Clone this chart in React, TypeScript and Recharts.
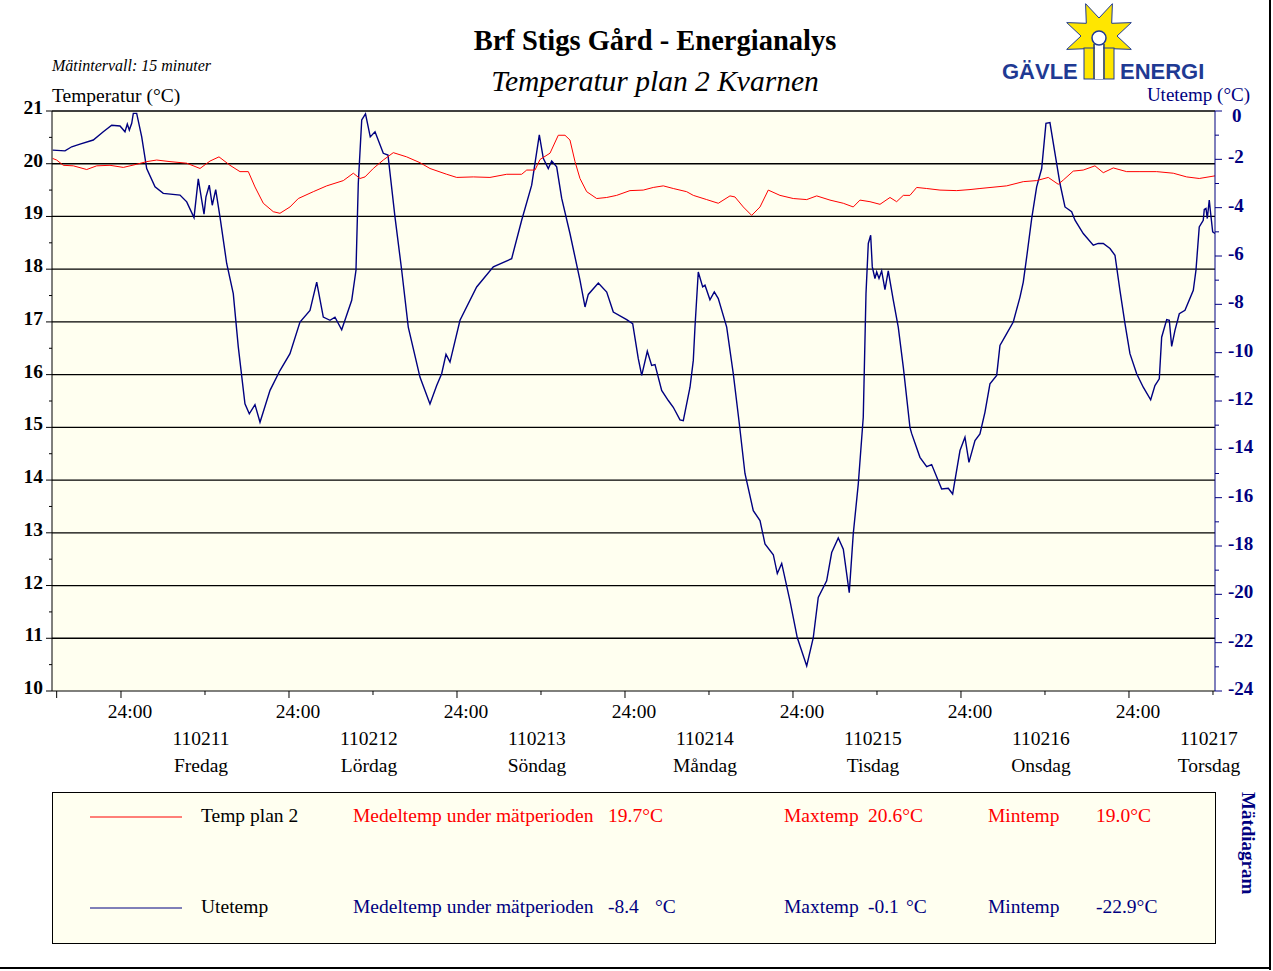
import { CartesianGrid, Line, LineChart, ReferenceLine, XAxis, YAxis } from 'recharts';

// Utetemp (right axis), hours from midnight 110211
const blueHours = [
    -9.76, -8.0, -7.04, -5.86, -3.96, -2.53, -1.33, -0.14, 0.57, 0.9,
    1.19, 1.53, 1.76, 2.24, 2.96, 3.67, 4.86, 6.04, 8.43, 9.39,
    10.43, 11.04, 11.53, 11.86, 12.14, 12.61, 13.04, 13.53, 14.14, 15.1,
    16.04, 16.76, 17.71, 18.33, 19.14, 19.86, 21.29, 22.71, 24.14, 25.57,
    27.0, 27.96, 28.9, 29.86, 30.57, 31.53, 32.96, 33.57, 33.9, 34.39,
    34.93, 35.61, 36.29, 37.47, 38.14, 39.14, 40.1, 41.04, 42.71, 44.14,
    45.1, 45.81, 46.43, 47.0, 48.43, 50.81, 53.19, 55.81, 57.24, 58.67,
    59.76, 60.33, 61.04, 61.53, 62.24, 62.96, 64.14, 65.57, 66.29, 66.76,
    68.19, 69.39, 70.33, 72.24, 73.1, 73.9, 74.39, 75.19, 75.81, 76.29,
    77.24, 78.19, 78.9, 79.86, 80.33, 81.29, 81.76, 82.0, 82.47, 83.1,
    83.43, 84.14, 84.76, 85.33, 86.53, 87.47, 88.33, 89.14, 90.33, 91.29,
    92.0, 93.19, 93.76, 94.39, 95.57, 96.61, 97.96, 98.9, 99.61, 100.81,
    101.53, 102.47, 103.19, 104.04, 104.61, 105.33, 106.04, 106.43, 106.76, 107.1,
    107.33, 107.71, 107.96, 108.29, 108.67, 109.14, 109.61, 110.33, 111.04, 111.76,
    112.71, 112.96, 114.14, 115.1, 115.81, 117.24, 118.19, 118.81, 119.86, 120.57,
    121.14, 122.0, 122.71, 123.43, 124.14, 125.1, 125.57, 126.53, 127.47, 128.43,
    128.9, 129.39, 130.1, 130.81, 131.53, 132.14, 132.71, 133.43, 134.14, 134.86,
    135.81, 136.29, 137.47, 138.9, 139.61, 140.33, 141.29, 142.0, 142.71, 143.43,
    144.14, 145.1, 146.04, 147.1, 147.71, 148.33, 148.67, 149.39, 149.76, 150.1,
    150.57, 151.19, 152.0, 153.19, 153.57, 154.04, 154.61, 154.76, 155.0, 155.19,
    155.47, 155.67, 155.96, 156.29,
];
const blueTemps = [
    -1.62, -1.65, -1.48, -1.37, -1.2, -0.86, -0.59, -0.62, -0.86, -0.54,
    -0.79, -0.51, -0.1, -0.1, -1.07, -2.38, -3.14, -3.41, -3.48, -3.76,
    -4.41, -2.81, -3.69, -4.27, -3.55, -3.07, -3.9, -3.25, -4.38, -6.31,
    -7.56, -9.77, -12.12, -12.53, -12.15, -12.88, -11.56, -10.74, -10.04, -8.73,
    -8.25, -7.08, -8.53, -8.66, -8.53, -9.05, -7.83, -6.59, -3.0, -0.37,
    -0.12, -1.07, -0.86, -1.75, -1.82, -4.38, -6.59, -8.94, -11.01, -12.12,
    -11.36, -10.87, -10.07, -10.39, -8.66, -7.28, -6.45, -6.11, -4.52, -3.07,
    -0.99, -1.96, -2.38, -2.07, -2.31, -3.62, -5.07, -7.0, -8.11, -7.59,
    -7.12, -7.49, -8.32, -8.63, -8.8, -10.25, -10.94, -9.94, -10.53, -10.49,
    -11.56, -11.98, -12.26, -12.78, -12.81, -11.43, -10.32, -8.94, -6.66, -7.28,
    -7.21, -7.81, -7.49, -7.76, -8.94, -10.87, -12.93, -15.0, -16.54, -16.95,
    -17.91, -18.36, -19.14, -18.72, -20.27, -21.79, -22.96, -21.79, -20.13, -19.44,
    -18.27, -17.67, -18.13, -19.93, -17.5, -15.43, -12.67, -7.56, -5.48, -5.14,
    -6.45, -6.93, -6.66, -6.93, -6.62, -7.39, -6.62, -7.83, -8.94, -10.6,
    -13.09, -13.35, -14.33, -14.72, -14.63, -15.64, -15.61, -15.85, -14.05, -13.5,
    -14.54, -13.64, -13.36, -12.46, -11.29, -10.94, -9.7, -9.21, -8.73, -7.7,
    -7.08, -6.04, -4.45, -3.14, -2.38, -0.51, -0.48, -1.75, -3.0, -3.97,
    -4.17, -4.52, -5.07, -5.55, -5.48, -5.48, -5.69, -5.97, -7.42, -8.8,
    -10.04, -10.87, -11.43, -11.95, -11.36, -11.08, -9.36, -8.63, -8.66, -9.74,
    -9.08, -8.39, -8.25, -7.42, -6.59, -4.8, -4.52, -4.07, -4.03, -4.45,
    -3.69, -4.24, -5.0, -5.07,
];

// Temp plan 2 (left axis)
const redHours = [
    -9.76, -9.19, -8.24, -6.81, -4.9, -3.47, -1.57, 0.33, 2.24, 3.67,
    5.1, 7.0, 9.39, 11.29, 12.71, 14.0, 15.57, 17.0, 18.19, 19.14,
    20.33, 21.76, 22.71, 24.14, 25.33, 27.47, 29.39, 31.76, 33.19, 34.14,
    34.86, 36.04, 37.47, 38.9, 40.81, 42.71, 44.14, 46.53, 47.96, 50.33,
    52.71, 55.1, 57.24, 57.96, 59.14, 59.86, 61.29, 62.47, 63.43, 64.14,
    64.86, 65.57, 66.53, 67.96, 69.39, 70.81, 72.71, 74.61, 76.04, 77.47,
    78.9, 80.81, 81.76, 83.67, 85.33, 87.0, 87.71, 88.9, 90.1, 91.29,
    92.47, 94.14, 96.04, 97.96, 99.39, 101.29, 103.19, 104.61, 105.57, 107.0,
    108.43, 109.86, 110.81, 111.76, 112.71, 113.67, 115.1, 117.0, 119.39, 121.29,
    122.71, 126.53, 128.9, 130.81, 132.47, 133.9, 134.61, 136.04, 137.47, 139.14,
    140.33, 141.76, 143.67, 145.57, 147.96, 150.33, 152.24, 154.04, 156.29,
];
const redTemps = [
    20.1, 20.07, 19.97, 19.96, 19.89, 19.96, 19.97, 19.93, 19.99, 20.04,
    20.07, 20.04, 20.01, 19.91, 20.05, 20.13, 19.97, 19.85, 19.85, 19.56,
    19.25, 19.09, 19.06, 19.18, 19.34, 19.47, 19.58, 19.68, 19.82, 19.72,
    19.75, 19.91, 20.07, 20.21, 20.13, 20.02, 19.91, 19.8, 19.74, 19.75,
    19.74, 19.8, 19.8, 19.88, 19.88, 20.08, 20.2, 20.54, 20.54, 20.45,
    20.04, 19.72, 19.47, 19.34, 19.36, 19.4, 19.49, 19.5, 19.55, 19.58,
    19.53, 19.47, 19.4, 19.32, 19.25, 19.39, 19.37, 19.18, 19.02, 19.18,
    19.5, 19.4, 19.34, 19.32, 19.39, 19.31, 19.25, 19.18, 19.31, 19.28,
    19.23, 19.36, 19.28, 19.4, 19.4, 19.55, 19.53, 19.5, 19.49, 19.51,
    19.53, 19.58, 19.66, 19.68, 19.74, 19.61, 19.69, 19.86, 19.88, 19.96,
    19.83, 19.92, 19.85, 19.85, 19.85, 19.82, 19.75, 19.72, 19.77,
];

const dayCodes = ['110211', '110212', '110213', '110214', '110215', '110216', '110217'];
const dayNames = ['Fredag', 'Lördag', 'Söndag', 'Måndag', 'Tisdag', 'Onsdag', 'Torsdag'];
const hourTicks = [-9.19, 0, 12, 24, 36, 48, 60, 72, 84, 96, 108, 120, 132, 144, 156];
const leftTicks = [10, 10.5, 11, 11.5, 12, 12.5, 13, 13.5, 14, 14.5, 15, 15.5, 16, 16.5, 17, 17.5, 18, 18.5, 19, 19.5, 20, 20.5, 21];
const gridValues = [11, 12, 13, 14, 15, 16, 17, 18, 19, 20, 21];
const rightTicks = [-24, -23, -22, -21, -20, -19, -18, -17, -16, -15, -14, -13, -12, -11, -10, -9, -8, -7, -6, -5, -4, -3, -2, -1, 0];

const SERIF = "'Liberation Serif', 'Times New Roman', serif";
const SANS = "'Liberation Sans', Arial, sans-serif";
const NAVY = '#000080';
const PAPER = '#FFFFF0';
const LOGO_BLUE = '#1f3a93';

const blueRows = blueHours.map((h, i) => ({ h, v: blueTemps[i] }));
const redRows = redHours.map((h, i) => ({ h, v: redTemps[i] }));

function LeftTick({ x, y, payload }: any) {
    const v = payload.value as number;
    const major = Number.isInteger(v);
    return (
        <g>
            <line x1={x - (major ? 6 : 3)} x2={x} y1={y} y2={y} stroke="#000" />
            {major ? (
                <text x={x - 9} y={y + 3} textAnchor="end" fontFamily={SERIF} fontSize={19.5} fontWeight="bold" fill="#000">
                    {v}
                </text>
            ) : null}
        </g>
    );
}

function RightTick({ x, y, payload }: any) {
    const v = payload.value as number;
    const major = v % 2 === 0;
    // the "0" label sits a little lower, under the axis title
    return (
        <g>
            <line x1={x} x2={x + (major ? 7 : 4)} y1={y} y2={y} stroke={NAVY} />
            {major ? (
                <text
                    x={v === 0 ? x + 17 : x + 13}
                    y={v === 0 ? y + 11 : y + 4}
                    textAnchor="start"
                    fontFamily={SERIF}
                    fontSize={19}
                    fontWeight="bold"
                    fill={NAVY}
                >
                    {v}
                </text>
            ) : null}
        </g>
    );
}

function HourTick({ x, y, payload }: any) {
    const v = payload.value as number;
    const mod = ((v % 24) + 24) % 24;
    const noon = mod === 12;
    const midnight = mod === 0;
    const day = Math.round((v - 12) / 24);
    return (
        <g>
            <line x1={x} x2={x} y1={y} y2={y + (noon ? 4 : 7)} stroke="#000" />
            {midnight ? (
                <text x={x + 9} y={y + 27} textAnchor="middle" fontFamily={SERIF} fontSize={19.5} fill="#000">
                    24:00
                </text>
            ) : null}
            {noon && dayCodes[day] ? (
                <g fontFamily={SERIF} fontSize={19.5} fill="#000" textAnchor="middle">
                    <text x={x - 4} y={y + 54}>{dayCodes[day]}</text>
                    <text x={x - 4} y={y + 81}>{dayNames[day]}</text>
                </g>
            ) : null}
        </g>
    );
}

function starPoints(cx: number, cy: number, outer: number, inner: number, n: number, start: number) {
    const pts: string[] = [];
    for (let i = 0; i < n * 2; i++) {
        const r = i % 2 === 0 ? outer : inner;
        const a = ((start + (i * 180) / n) * Math.PI) / 180;
        pts.push(`${(cx + r * Math.cos(a)).toFixed(1)},${(cy + r * Math.sin(a)).toFixed(1)}`);
    }
    return pts.join(' ');
}

function Logo() {
    return (
        <g>
            <polygon
                points={starPoints(1099, 36, 35, 18, 8, -112.5)}
                fill="#FFE600"
                stroke={LOGO_BLUE}
                strokeWidth={1}
                strokeLinejoin="miter"
            />
            <rect x={1084} y={48} width={30} height={31} fill="#FFE600" stroke={LOGO_BLUE} strokeWidth={1} />
            <line x1={1094} x2={1094} y1={44} y2={79} stroke={LOGO_BLUE} strokeWidth={1.5} />
            <line x1={1104} x2={1104} y1={44} y2={79} stroke={LOGO_BLUE} strokeWidth={1.5} />
            <rect x={1095} y={44} width={8} height={35} fill="#fff" />
            <circle cx={1099} cy={38} r={7} fill="#fff" stroke={LOGO_BLUE} strokeWidth={1.5} />
            <text x={1002} y={79} fontFamily={SANS} fontWeight="bold" fontSize={22} fill={LOGO_BLUE}>
                GÄVLE
            </text>
            <text x={1120} y={79} fontFamily={SANS} fontWeight="bold" fontSize={22} fill={LOGO_BLUE}>
                ENERGI
            </text>
        </g>
    );
}

function Legend() {
    const t = { fontFamily: SERIF, fontSize: 19.5 };
    return (
        <g>
            <rect x={52.5} y={792.5} width={1163} height={151} fill={PAPER} stroke="#000" />
            <line x1={90} x2={182} y1={817} y2={817} stroke="#FF0000" />
            <text x={201} y={822} {...t} fill="#000">Temp plan 2</text>
            <text x={353} y={822} {...t} fill="#FF0000">Medeltemp under mätperioden</text>
            <text x={608} y={822} {...t} fill="#FF0000">19.7°C</text>
            <text x={784} y={822} {...t} fill="#FF0000">Maxtemp</text>
            <text x={868} y={822} {...t} fill="#FF0000">20.6°C</text>
            <text x={988} y={822} {...t} fill="#FF0000">Mintemp</text>
            <text x={1096} y={822} {...t} fill="#FF0000">19.0°C</text>

            <line x1={90} x2={182} y1={908} y2={908} stroke={NAVY} />
            <text x={201} y={913} {...t} fill="#000">Utetemp</text>
            <text x={353} y={913} {...t} fill={NAVY}>Medeltemp under mätperioden</text>
            <text x={608} y={913} {...t} fill={NAVY}>-8.4</text>
            <text x={655} y={913} {...t} fill={NAVY}>°C</text>
            <text x={784} y={913} {...t} fill={NAVY}>Maxtemp</text>
            <text x={868} y={913} {...t} fill={NAVY}>-0.1</text>
            <text x={906} y={913} {...t} fill={NAVY}>°C</text>
            <text x={988} y={913} {...t} fill={NAVY}>Mintemp</text>
            <text x={1096} y={913} {...t} fill={NAVY}>-22.9°C</text>

            <text
                x={1242}
                y={792}
                transform="rotate(90 1242 792)"
                fontFamily={SERIF}
                fontSize={19}
                fontWeight="bold"
                fill={NAVY}
            >
                Mätdiagram
            </text>
        </g>
    );
}

export default function App() {
    return (
        <div style={{ position: 'absolute', left: 0, top: 0, width: 1273, height: 971, background: '#fff' }}>
            <div style={{ position: 'absolute', left: 0, top: 0 }}>
                <LineChart width={1273} height={800} margin={{ top: 111, right: 8, left: 7, bottom: 19 }}>
                    <CartesianGrid yAxisId="left" fill={PAPER} stroke="none" horizontal={false} vertical={false} />
                    <XAxis
                        dataKey="h"
                        type="number"
                        domain={[-9.857, 156.29]}
                        allowDataOverflow
                        ticks={hourTicks}
                        interval={0}
                        height={90}
                        tickSize={0}
                        tickMargin={0}
                        tickLine={false}
                        axisLine={{ stroke: '#000' }}
                        tick={<HourTick />}
                    />
                    <YAxis
                        yAxisId="left"
                        orientation="left"
                        type="number"
                        domain={[10, 21]}
                        ticks={leftTicks}
                        interval={0}
                        width={45}
                        tickSize={0}
                        tickMargin={0}
                        tickLine={false}
                        axisLine={{ stroke: '#000' }}
                        tick={<LeftTick />}
                    />
                    <YAxis
                        yAxisId="right"
                        orientation="right"
                        type="number"
                        domain={[-24, 0]}
                        ticks={rightTicks}
                        interval={0}
                        width={50}
                        tickSize={0}
                        tickMargin={0}
                        tickLine={false}
                        axisLine={{ stroke: NAVY }}
                        tick={<RightTick />}
                    />
                    {gridValues.map((g) => (
                        <ReferenceLine key={g} yAxisId="left" y={g} stroke="#000" strokeWidth={1.3} ifOverflow="extendDomain" />
                    ))}
                    <Line
                        yAxisId="right"
                        data={blueRows}
                        dataKey="v"
                        type="linear"
                        stroke={NAVY}
                        strokeWidth={1.4}
                        dot={false}
                        isAnimationActive={false}
                    />
                    <Line
                        yAxisId="left"
                        data={redRows}
                        dataKey="v"
                        type="linear"
                        stroke="#FF0000"
                        strokeWidth={1}
                        dot={false}
                        isAnimationActive={false}
                    />
                </LineChart>
            </div>
            <svg width={1273} height={971} style={{ position: 'absolute', left: 0, top: 0, pointerEvents: 'none' }}>
                <text x={655} y={50} textAnchor="middle" fontFamily={SERIF} fontSize={28.5} fontWeight="bold" fill="#000">
                    Brf Stigs Gård - Energianalys
                </text>
                <text x={655} y={91} textAnchor="middle" fontFamily={SERIF} fontSize={29.5} fontStyle="italic" fill="#000">
                    Temperatur plan 2 Kvarnen
                </text>
                <text x={52} y={71} fontFamily={SERIF} fontSize={16} fontStyle="italic" fill="#000">
                    Mätintervall: 15 minuter
                </text>
                <text x={52} y={102} fontFamily={SERIF} fontSize={19.5} fill="#000">
                    Temperatur (°C)
                </text>
                <text x={1250} y={101} textAnchor="end" fontFamily={SERIF} fontSize={19} fill={NAVY}>
                    Utetemp (°C)
                </text>
                <Logo />
                <Legend />
                <line x1={1270} x2={1270} y1={0} y2={970} stroke="#000" strokeWidth={2} />
                <line x1={0} x2={1271} y1={968} y2={968} stroke="#000" strokeWidth={2} />
            </svg>
        </div>
    );
}
